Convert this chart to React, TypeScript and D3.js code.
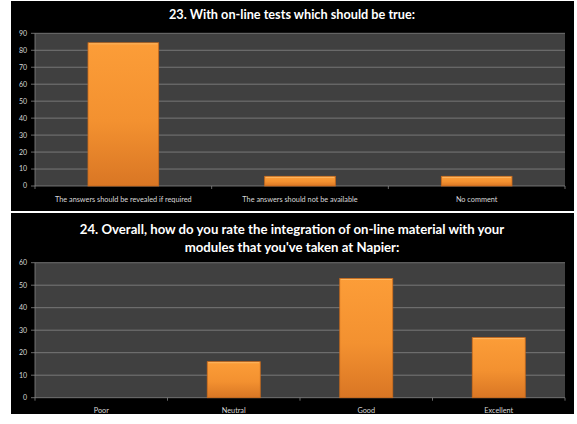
import React from "react";
import * as d3 from "d3";

const cats1 = [
  "The answers should be revealed if required",
  "The answers should not be available",
  "No comment",
];
const vals1 = [84.4, 5.7, 5.7];
const ticks1 = [0, 10, 20, 30, 40, 50, 60, 70, 80, 90];
const title1 = ["23. With on-line tests which should be true:"];

const cats2 = ["Poor", "Neutral", "Good", "Excellent"];
const vals2 = [0, 16, 53, 26.7];
const ticks2 = [0, 10, 20, 30, 40, 50, 60];
const title2 = [
  "24. Overall, how do you rate the integration of on-line material with your",
  "modules that you've taken at Napier:",
];

const FONT = "Lato, 'Open Sans', sans-serif";

type PanelProps = {
  top: number;
  height: number;
  plotTop: number;
  plotBottom: number;
  cats: string[];
  vals: number[];
  ticks: number[];
  title: string[];
  titleY: number;
  titleSize: number;
  id: string;
};

function Panel(p: PanelProps) {
  const left = 11;
  const right = 574;
  const plotL = 35;
  const plotR = 565;
  const x = d3.scaleBand<string>().domain(p.cats).range([plotL, plotR]).paddingInner(0.6).paddingOuter(0.3);
  const xb = d3.scaleBand<string>().domain(p.cats).range([plotL, plotR]);
  const y = d3
    .scaleLinear()
    .domain([0, d3.max(p.ticks) as number])
    .range([p.plotBottom, p.plotTop]);
  const gid = "grad" + p.id;
  return (
    <g>
      <defs>
        <linearGradient id={gid} x1="0" y1="0" x2="0" y2="1">
          <stop offset="0%" stopColor="#FC9D38" />
          <stop offset="55%" stopColor="#F39130" />
          <stop offset="100%" stopColor="#D97624" />
        </linearGradient>
      </defs>
      <rect x={left} y={p.top} width={right - left} height={p.height} fill="#000" />
      <rect
        x={plotL}
        y={p.plotTop}
        width={plotR - plotL}
        height={p.plotBottom - p.plotTop}
        fill="#404040"
      />
      {p.ticks.map((t) => (
        <g key={t}>
          {t > 0 && (
            <line x1={plotL} x2={plotR} y1={y(t)} y2={y(t)} stroke="#858585" strokeWidth={0.8} />
          )}
          <line x1={plotL - 4} x2={plotL} y1={y(t)} y2={y(t)} stroke="#858585" strokeWidth={0.8} />
          <text
            x={plotL - 8}
            y={y(t)}
            dy="0.35em"
            textAnchor="end"
            fontSize={7}
            fill="#d8d8d8"
            fontFamily={FONT}
          >
            {t}
          </text>
        </g>
      ))}
      <line x1={plotL} x2={plotL} y1={p.plotTop} y2={p.plotBottom} stroke="#858585" strokeWidth={0.8} />
      <line x1={plotL} x2={plotR} y1={p.plotBottom} y2={p.plotBottom} stroke="#858585" strokeWidth={0.8} />
      {p.cats.map((c) => (
        <line
          key={"t" + c}
          x1={(xb(c) as number) + xb.bandwidth()}
          x2={(xb(c) as number) + xb.bandwidth()}
          y1={p.plotBottom}
          y2={p.plotBottom + 3}
          stroke="#858585"
          strokeWidth={0.8}
        />
      ))}
      <line x1={plotL} x2={plotL} y1={p.plotBottom} y2={p.plotBottom + 3} stroke="#858585" strokeWidth={0.8} />
      {p.cats.map((c, i) =>
        p.vals[i] > 0 ? (
          <g key={"b" + c}>
            <rect
              x={x(c) as number}
              y={y(p.vals[i])}
              width={x.bandwidth()}
              height={p.plotBottom - y(p.vals[i])}
              fill={`url(#${gid})`}
              stroke="#C96A1C"
              strokeWidth={0.8}
            />
            <line
              x1={(x(c) as number) + 1}
              x2={(x(c) as number) + x.bandwidth() - 1}
              y1={y(p.vals[i]) + 1}
              y2={y(p.vals[i]) + 1}
              stroke="#FFC070"
              strokeWidth={0.8}
            />
          </g>
        ) : null
      )}
      {p.cats.map((c) => (
        <text
          key={"l" + c}
          x={(xb(c) as number) + xb.bandwidth() / 2}
          y={p.plotBottom + 13}
          dy="0.35em"
          textAnchor="middle"
          fontSize={7.3}
          fill="#d8d8d8"
          fontFamily={FONT}
        >
          {c}
        </text>
      ))}
      {p.title.map((t, i) => (
        <text
          key={"ti" + i}
          x={292}
          y={p.titleY + i * 18}
          dy="0.35em"
          textAnchor="middle"
          fontSize={p.titleSize}
          fontWeight="bold"
          fill="#fff"
          fontFamily={FONT}
        >
          {t}
        </text>
      ))}
    </g>
  );
}

export default function App() {
  return (
    <svg
      width={577}
      height={424}
      style={{ position: "absolute", left: 0, top: 0, background: "#fff" }}
    >
      <rect x={0} y={0} width={577} height={424} fill="#fff" />
      <Panel
        id="1"
        top={1}
        height={210}
        plotTop={33.3}
        plotBottom={186}
        cats={cats1}
        vals={vals1}
        ticks={ticks1}
        title={title1}
        titleY={15}
        titleSize={12.7}
      />
      <Panel
        id="2"
        top={213}
        height={201}
        plotTop={262.7}
        plotBottom={397.7}
        cats={cats2}
        vals={vals2}
        ticks={ticks2}
        title={title2}
        titleY={229}
        titleSize={13.2}
      />
    </svg>
  );
}
